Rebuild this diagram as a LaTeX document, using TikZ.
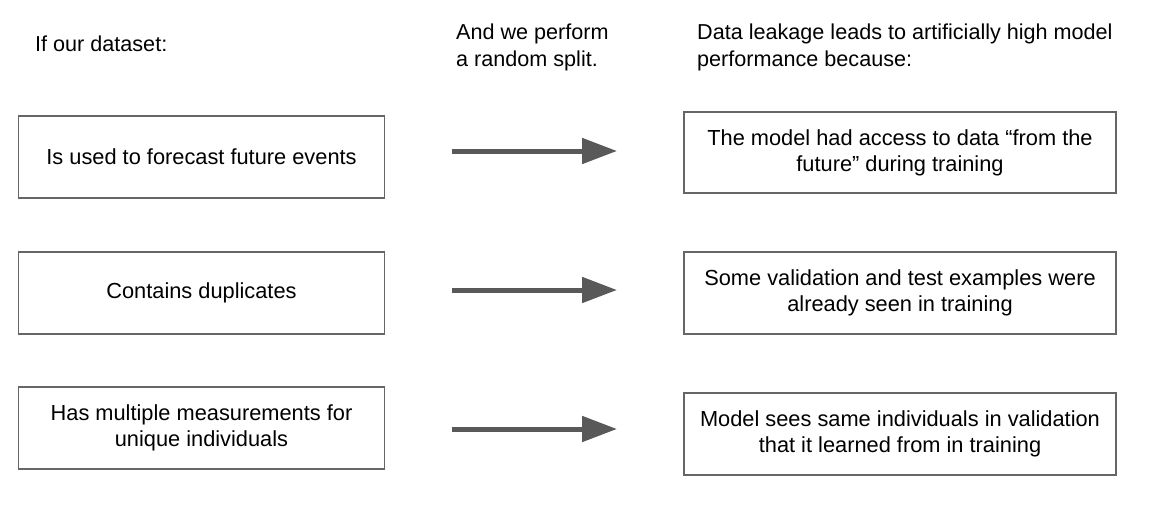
\documentclass[tikz,border=0pt]{standalone}
\usepackage{fontspec}
\setmainfont{Liberation Sans}
\usetikzlibrary{arrows.meta}
\definecolor{arrowgray}{HTML}{595959}
\definecolor{boxline}{HTML}{666666}
\tikzset{
  box/.style={draw=boxline, line width=1.3pt, inner sep=0pt, align=center,
    font=\fontsize{21.8}{26}\selectfont},
  header/.style={anchor=north west, inner sep=0pt, align=left,
    font=\fontsize{21.6}{27}\selectfont},
  bigarrow/.style={draw=arrowgray, line width=5pt,
    -{Triangle[length=35pt,width=25pt]}, shorten >=0pt}
}
\begin{document}
\begin{tikzpicture}[x=1pt,y=-1pt]
\useasboundingbox[fill=white] (0,0) rectangle (1162,506);
% headers
\node[header] (h1) at (35,36) {If our dataset:};
\node[header] (h2) at (456,24) {And we perform\\a random split.};
\node[header] (h3) at (697,24) {Data leakage leads to artificially high model\\performance because:};
% left boxes
\node[box, minimum width=366pt, minimum height=82pt] (l1) at (201.5,157) {Is used to forecast future events};
\node[box, minimum width=366pt, minimum height=82pt] (l2) at (201.5,293) {Contains duplicates};
\node[box, minimum width=366pt, minimum height=82pt] (l3) at (201.5,428) {Has multiple measurements for\\unique individuals};
% right boxes
\node[box, minimum width=432pt, minimum height=81pt] (r1) at (900,152.5) {The model had access to data “from the\\future” during training};
\node[box, minimum width=432pt, minimum height=82pt] (r2) at (900,293) {Some validation and test examples were\\already seen in training};
\node[box, minimum width=432pt, minimum height=82pt] (r3) at (900,434) {Model sees same individuals in validation\\that it learned from in training};
% arrows
\coordinate (a1s) at (452,151);
\coordinate (a1e) at (617,151);
\coordinate (a2s) at (452,290);
\coordinate (a2e) at (617,290);
\coordinate (a3s) at (452,429);
\coordinate (a3e) at (617,429);
\draw[bigarrow] (a1s) -- (a1e);
\draw[bigarrow] (a2s) -- (a2e);
\draw[bigarrow] (a3s) -- (a3e);
\end{tikzpicture}
\end{document}
